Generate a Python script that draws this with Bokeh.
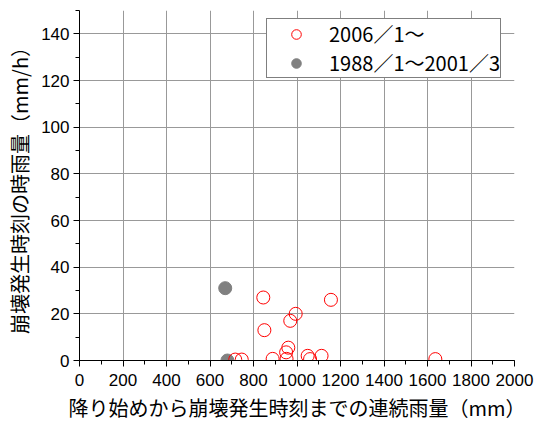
from bokeh.plotting import figure
from bokeh.models import Range1d, SingleIntervalTicker, Legend, LegendItem
from bokeh.embed import file_html
from bokeh.resources import INLINE

# data
new_x = [716, 746, 845, 850, 888, 950, 952, 960, 969, 994, 1049, 1060, 1113, 1156, 1636]
new_y = [0.4, 0.4, 27, 13, 0.7, 3.5, 0.7, 5.5, 17, 20, 2, 0.6, 2, 26, 0.6]
old_x = [670, 680]
old_y = [31, 0]
label_new = "2006／1～"
label_old = "1988／1～2001／3"
x_label = "降り始めから崩壊発生時刻までの連続雨量（mm）"
y_label = "崩壊発生時刻の時雨量（mm/h）"

FONT = "Noto Sans CJK JP"
TICK_FONT = "Liberation Sans"

p = figure(frame_width=435, frame_height=350, output_backend="svg", toolbar_location=None,
           x_range=Range1d(0, 2000), y_range=Range1d(0, 150),
           min_border_left=79, min_border_top=10, min_border_right=20, min_border_bottom=60)
p.outline_line_color = None
p.background_fill_color = "white"

r_old = p.scatter(old_x, old_y, size=13, marker="circle", fill_color="#808080", line_color="#808080")
r_new = p.scatter(new_x, new_y, size=13, marker="circle", fill_color=None, line_color="red", line_width=1)

for ax, step in ((p.xaxis[0], 200), (p.yaxis[0], 20)):
    ax.ticker = SingleIntervalTicker(interval=step, num_minor_ticks=2)
    ax.axis_line_color = "black"
    ax.major_tick_line_color = "black"
    ax.minor_tick_line_color = "black"
    ax.major_tick_out = 6
    ax.major_tick_in = 0
    ax.minor_tick_out = 4
    ax.minor_tick_in = 0
    ax.major_label_text_font = TICK_FONT
    ax.major_label_text_font_size = "17px"
    ax.major_label_text_color = "black"
    ax.axis_label_text_font = FONT
    ax.axis_label_text_font_size = "20px"
    ax.axis_label_text_font_style = "normal"
    ax.axis_label_text_color = "black"

p.xaxis.axis_label = x_label
p.yaxis.axis_label = y_label
p.xaxis.major_label_standoff = 7
p.yaxis.major_label_standoff = 4
p.xaxis.axis_label_standoff = 4
p.yaxis.axis_label_standoff = 4

p.xgrid.ticker = SingleIntervalTicker(interval=200)
p.ygrid.ticker = SingleIntervalTicker(interval=20)
p.xgrid.grid_line_color = "#999999"
p.ygrid.grid_line_color = "#999999"

legend = Legend(items=[LegendItem(label=label_new, renderers=[r_new]),
                       LegendItem(label=label_old, renderers=[r_old])],
                location=(187, 282))
legend.label_text_font = FONT
legend.label_text_font_size = "20px"
legend.label_text_color = "black"
legend.label_height = 20
legend.glyph_height = 24
legend.glyph_width = 58
legend.label_standoff = 4
legend.spacing = 0
legend.padding = 0
legend.margin = 0
legend.border_line_color = "black"
legend.border_line_width = 1
legend.background_fill_alpha = 1
p.add_layout(legend, "center")

open("out.html", "w").write(file_html(p, INLINE))
